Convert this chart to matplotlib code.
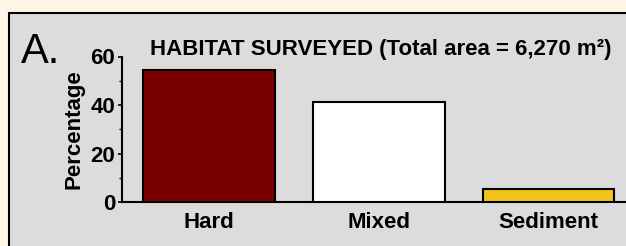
import matplotlib
matplotlib.use("Agg")
import matplotlib.pyplot as plt
from matplotlib.patches import Rectangle
from matplotlib.ticker import MultipleLocator

categories = ["Hard", "Mixed", "Sediment"]
percentages = [54.4, 41.4, 5.2]
bar_colors = ["#7a0000", "#ffffff", "#f2c318"]
yticks = [0, 20, 40, 60]

plt.rcParams['font.family'] = ['Liberation Sans', 'DejaVu Sans']

W, H = 626, 246
fig = plt.figure(figsize=(W / 100, H / 100), dpi=100)
fig.patch.set_facecolor("#fef6e6")

# grey panel with black border
panel = Rectangle((9 / W, -0.1), 1.2, (H - 12.5) / H + 0.1, transform=fig.transFigure,
                  facecolor="#dcdcdc", edgecolor="black", linewidth=1.5, zorder=-10)
fig.patches.append(panel)

ax_left, ax_right = 121.5, 626
ax_top, ax_bot = 56.5, 202
ax = fig.add_axes([ax_left / W, 1 - ax_bot / H, (ax_right - ax_left) / W, (ax_bot - ax_top) / H])
ax.set_facecolor("none")
ax.set_zorder(5)

x = range(len(categories))
ax.bar(x, percentages, width=0.776, color=bar_colors, edgecolor="black", linewidth=1.5, zorder=3)

ax.set_xlim(-0.515, 2.456)
ax.set_ylim(0, 60)
ax.set_yticks(yticks)
ax.yaxis.set_minor_locator(MultipleLocator(10))
ax.set_yticklabels([str(v) for v in yticks], fontsize=16, fontweight="bold")
ax.set_xticks(list(x))
ax.set_xticklabels(categories, fontsize=16, fontweight="bold")
ax.tick_params(axis="x", length=0, pad=7)
ax.tick_params(axis="y", which="major", length=3, width=1.2, pad=1.5)
ax.tick_params(axis="y", which="minor", length=2, width=1.0)
for s in ["top", "right"]:
    ax.spines[s].set_visible(False)
ax.spines["left"].set_linewidth(1.5)
ax.spines["bottom"].set_linewidth(1.5)

ax.set_ylabel("Percentage", fontsize=16, fontweight="bold", labelpad=4)

fig.text(381 / W, 1 - 50 / H, "HABITAT SURVEYED (Total area = 6,270 m²)",
         ha="center", va="center", fontsize=16, fontweight="bold", zorder=6)
fig.text(21 / W, 1 - 52 / H, "A.", ha="left", va="center", fontsize=30, zorder=6)

fig.savefig("out.png", dpi=100, facecolor=fig.get_facecolor())
